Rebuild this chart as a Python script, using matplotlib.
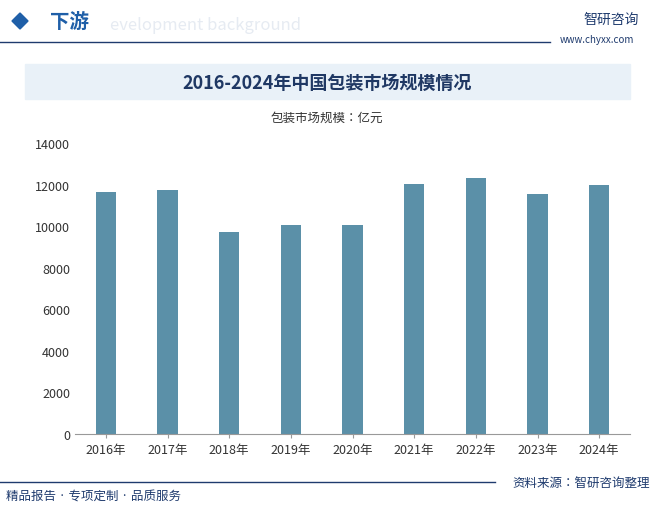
import matplotlib
matplotlib.use("Agg")
import matplotlib.pyplot as plt
from matplotlib.patches import Rectangle, Polygon

plt.rcParams["font.family"] = ["Noto Sans CJK SC", "Noto Sans CJK JP", "DejaVu Sans"]

years = ["2016年", "2017年", "2018年", "2019年", "2020年", "2021年", "2022年", "2023年", "2024年"]
market_size = [11650, 11740, 9710, 10050, 10050, 12030, 12310, 11540, 11980]
y_ticks = [0, 2000, 4000, 6000, 8000, 10000, 12000, 14000]

W, H = 657, 510
fig = plt.figure(figsize=(W / 100, H / 100), dpi=100)

# header
fig.patches.append(Polygon([(12 / W, 1 - 22 / H), (20 / W, 1 - 14 / H), (28 / W, 1 - 22 / H), (20 / W, 1 - 30 / H)],
                           closed=True, transform=fig.transFigure, color="#1f5fa8"))
fig.text(50 / W, 1 - 22 / H, "下游", fontsize=14, color="#1f5fa8", fontweight="bold", va="center")
fig.text(110 / W, 1 - 26 / H, "evelopment background", fontsize=12, color="#e6ebf2", va="center")
fig.add_artist(plt.Line2D([0, 550 / W], [1 - 43 / H, 1 - 43 / H], color="#1f3b6e", lw=1))
fig.text(583 / W, 1 - 20 / H, "智研咨询", fontsize=10, color="#1f3b6e", va="center")
fig.text(560 / W, 1 - 40 / H, "www.chyxx.com", fontsize=7, color="#1f3b6e", va="center")

# title box
fig.patches.append(Rectangle((25 / W, 1 - 100 / H), 605 / W, 35 / H, transform=fig.transFigure,
                             color="#e9f1f8", zorder=0))
fig.text(327 / W, 1 - 83 / H, "2016-2024年中国包装市场规模情况", fontsize=13, fontweight="bold",
         color="#1f3864", ha="center", va="center")
fig.text(327 / W, 1 - 118 / H, "包装市场规模：亿元", fontsize=9, color="#333333", ha="center", va="center")

# chart
ax = fig.add_axes([75 / W, 1 - 435 / H, 555 / W, 291 / H])
ax.bar(years, market_size, width=0.33, color="#5b90a8")
ax.set_ylim(0, 14000)
ax.set_yticks(y_ticks)
ax.set_xlim(-0.5, len(years) - 0.5)
for s in ["top", "right", "left"]:
    ax.spines[s].set_visible(False)
ax.spines["bottom"].set_color("#999999")
ax.tick_params(axis="y", length=0, labelsize=9, colors="#333333")
ax.tick_params(axis="x", length=3, labelsize=9, colors="#333333", color="#999999")

# footer
fig.add_artist(plt.Line2D([0, 495 / W], [1 - 483 / H, 1 - 483 / H], color="#1f3b6e", lw=1))
fig.text(6 / W, 1 - 497 / H, "精品报告 · 专项定制 · 品质服务", fontsize=9, color="#1f3b6e", va="center")
fig.text(650 / W, 1 - 483 / H, "资料来源：智研咨询整理", fontsize=9, color="#1f3b6e", va="center", ha="right")

fig.savefig("out.png", dpi=100)
